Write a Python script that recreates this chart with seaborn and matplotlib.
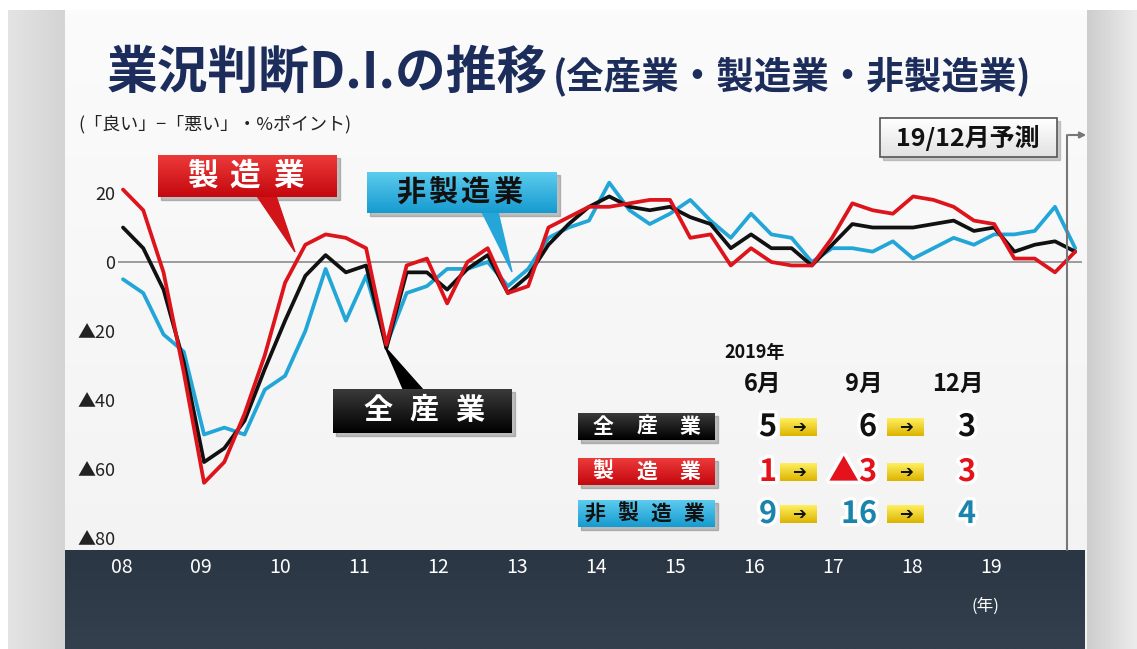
import numpy as np
import pandas as pd
import matplotlib
matplotlib.use("Agg")
import matplotlib.pyplot as plt
import seaborn as sns
from matplotlib.patches import Rectangle, Polygon
from matplotlib.colors import LinearSegmentedColormap
import matplotlib.patheffects as pe

# ---------------- data (quarterly, Mar 2008 .. Dec 2019 forecast) ----------------
quarters = [f"{y}/{m}" for y in range(2008, 2020) for m in (3, 6, 9, 12)]
all_industries = [10, 4, -8, -29, -58, -54, -46, -31, -17, -4,
                  2, -3, -1, -25, -3, -3, -8, -2, 2, -9,
                  -4, 5, 11, 16, 19, 16, 15, 16, 13, 11,
                  4, 8, 4, 4, -1, 5, 11, 10, 10, 10,
                  11, 12, 9, 10, 3, 5, 6, 3]
manufacturing = [21, 15, -3, -32, -64, -58, -44, -27, -6, 5,
                 8, 7, 4, -24, -1, 1, -12, 0, 4, -9,
                 -7, 10, 13, 16, 16, 17, 18, 18, 7, 8,
                 -1, 4, 0, -1, -1, 7, 17, 15, 14, 19,
                 18, 16, 12, 11, 1, 1, -3, 3]
non_manufacturing = [-5, -9, -21, -26, -50, -48, -50, -37, -33, -20,
                     -2, -17, -4, -24, -9, -7, -2, -2, 0, -7,
                     -2, 7, 10, 12, 23, 15, 11, 14, 18, 12,
                     7, 14, 8, 7, 0, 4, 4, 3, 6, 1,
                     4, 7, 5, 8, 8, 9, 16, 4]
series_names = ["全産業", "製造業", "非製造業"]
year_labels = ["08", "09", "10", "11", "12", "13", "14", "15", "16", "17", "18", "19"]
ytick_values = [20, 0, -20, -40, -60, -80]
ytick_labels = ["20", "0", "▲20", "▲40", "▲60", "▲80"]
table_months = ["6月", "9月", "12月"]
table_all = ["5", "6", "3"]
table_mfg = ["1", "▲3", "3"]
table_nonmfg = ["9", "16", "4"]

# ---------------- style ----------------
sns.set_theme(style="white")
plt.rcParams["font.family"] = ["Noto Sans CJK JP", "DejaVu Sans"]
plt.rcParams["font.weight"] = "bold"

W, H = 1137, 649
fig = plt.figure(figsize=(W / 100, H / 100), dpi=100)

NAVY = "#1c2d5c"
RED = "#dd141b"
BLUE = "#22a6d8"
BLACK = "#111111"


def grad(ax, x0, y0, x1, y1, c0, c1, z, horizontal=False):
    cmap = LinearSegmentedColormap.from_list("g", [c0, c1])
    g = np.linspace(0, 1, 64)
    arr = g[None, :] if horizontal else g[:, None]
    ax.imshow(arr, cmap=cmap, extent=(x0, x1, y1, y0), origin="upper",
              aspect="auto", zorder=z, interpolation="bilinear")


# ---------------- background ----------------
bg = fig.add_axes([0, 0, 1, 1], zorder=0)
bg.axis("off")
bg.add_patch(Rectangle((0, 0), W, H, color="white", zorder=0))
grad(bg, 65, 10, 1087, 649, "#fbfbfb", "#f2f2f2", 1)
grad(bg, 8, 10, 65, 649, "#e4e4e4", "#d4d4d4", 1, horizontal=True)
grad(bg, 1087, 10, 1137, 649, "#cdcdcd", "#ececec", 1, horizontal=True)
grad(bg, 65, 550, 1085, 649, "#2a3643", "#34404e", 2)
bg.set_xlim(0, W)
bg.set_ylim(H, 0)

# ---------------- data axes ----------------
px0, step = 123.0, 20.26
zero_py, unit = 262.0, 3.45
ax_l, ax_r, ax_t, ax_b = 118, 1082, 170, 550
ax = fig.add_axes([ax_l / W, 1 - ax_b / H, (ax_r - ax_l) / W, (ax_b - ax_t) / H], zorder=1)
ax.patch.set_alpha(0)

idx = np.arange(len(quarters))
df = pd.DataFrame({
    "idx": np.tile(idx, 3),
    "value": all_industries + manufacturing + non_manufacturing,
    "series": np.repeat(series_names, len(quarters)),
})
ax.axhline(0, color="#8c8c8c", lw=1.2, zorder=1)
sns.lineplot(data=df, x="idx", y="value", hue="series",
             hue_order=["非製造業", "全産業", "製造業"],
             palette={"全産業": BLACK, "製造業": RED, "非製造業": BLUE},
             linewidth=2.7, legend=False, estimator=None, sort=False, ax=ax)
ax.set_xlim((ax_l - px0) / step, (ax_r - px0) / step)
ax.set_ylim((zero_py - ax_b) / unit, (zero_py - ax_t) / unit)
ax.set_xlabel("")
ax.set_ylabel("")
for s in ax.spines.values():
    s.set_visible(False)
ax.set_yticks(ytick_values)
ax.set_yticklabels(ytick_labels, fontsize=13, color="#222222", fontweight="normal")
ax.set_xticks(np.arange(len(year_labels)) * 3.9 - 0.05)
ax.set_xticklabels(year_labels, fontsize=14, color="white", fontweight="normal")
ax.tick_params(axis="both", length=0)
ax.tick_params(axis="y", pad=2)
ax.tick_params(axis="x", pad=5)
ax.grid(False)

# ---------------- overlay ----------------
ov = fig.add_axes([0, 0, 1, 1], zorder=3)
ov.axis("off")
ov.patch.set_alpha(0)

# title
ov.text(107, 73, "業況判断D.I.の推移", ha="left", va="center", fontsize=36.5,
        color=NAVY, fontweight="bold")
ov.text(553, 76, "(全産業・製造業・非製造業)", ha="left", va="center", fontsize=27,
        color=NAVY, fontweight="bold")
ov.text(78, 124, "(「良い」−「悪い」・%ポイント)", ha="left", va="center", fontsize=13,
        color="#222222", fontweight="normal")
ov.text(985, 606, "(年)", ha="center", va="center", fontsize=12, color="white",
        fontweight="normal")

# forecast box + bracket arrow
ov.add_patch(Rectangle((883, 121), 177, 39, color="#9a9a9a", alpha=0.5, zorder=4))
grad(ov, 880, 118, 1057, 157, "#ffffff", "#e2e2e2", 5)
ov.add_patch(Rectangle((880, 118), 177, 39, fill=False, ec="#555555", lw=1.2, zorder=6))
ov.text(968, 138, "19/12月予測", ha="center", va="center", fontsize=18,
        color=BLACK, fontweight="bold", zorder=7)
ov.plot([1067, 1067], [550, 135], color="#777777", lw=1.5, zorder=4)
ov.annotate("", xy=(1089, 135), xytext=(1066, 135),
            arrowprops=dict(arrowstyle="-|>", color="#777777", lw=1.5,
                            mutation_scale=9), zorder=4)


def label_box(x0, y0, x1, y1, c0, c1, chars, xs, yc, tcolor, size, pointer=None,
              pcolor=None):
    ov.add_patch(Rectangle((x0 + 3, y0 + 3), x1 - x0, y1 - y0, color="#777777",
                           alpha=0.45, zorder=4))
    if pointer is not None:
        ov.add_patch(Polygon(pointer, closed=True, color=pcolor, zorder=5))
    grad(ov, x0, y0, x1, y1, c0, c1, 6)
    for ch, xc in zip(chars, xs):
        ov.text(xc, yc, ch, ha="center", va="center", fontsize=size, color=tcolor,
                fontweight="bold", zorder=7)


# callouts
label_box(158, 155, 337, 197, "#ec3a3a", "#c4080e", "製造業", [202, 245, 288], 176,
          "white", 22, pointer=[(257, 196), (276, 196), (295, 252)], pcolor="#d0141a")
label_box(367, 172, 557, 213, "#5ccbee", "#169bd0", "非製造業", [411, 443, 475, 508], 192,
          BLACK, 21, pointer=[(482, 212), (498, 212), (512, 272)], pcolor="#25a5d8")
label_box(333, 389, 512, 433, "#3a3a3a", "#000000", "全産業", [378, 424, 470], 410,
          "white", 21, pointer=[(385, 347), (404, 391), (424, 391)], pcolor="#000000")

# table
ov.text(755, 352, "2019年", ha="center", va="center", fontsize=13, color=BLACK,
        fontweight="bold")
for m, xc in zip(table_months, [763, 864, 958]):
    ov.text(xc, 384, m, ha="center", va="center", fontsize=17, color=BLACK,
            fontweight="bold")

rows = [
    ("全産業", [603, 647, 690], "#3a3a3a", "#000000", "white", table_all, BLACK, 427, 413),
    ("製造業", [603, 647, 690], "#ec3a3a", "#c4080e", "white", table_mfg, "#e3121b", 472, 458),
    ("非製造業", [595, 628, 661, 694], "#5ccbee", "#169bd0", BLACK, table_nonmfg, "#1b84ad", 514, 500),
]
stroke = [pe.withStroke(linewidth=5, foreground="white")]
for name, xs, c0, c1, tc, vals, vc, yc, ytop in rows:
    label_box(578, ytop, 715, ytop + 27, c0, c1, name, xs, ytop + 13.5, tc, 15)
    ov.text(777, yc, vals[0], ha="right", va="center", fontsize=22, color=vc,
            fontweight="bold", path_effects=stroke, zorder=7)
    ov.text(877, yc, vals[1], ha="right", va="center", fontsize=22, color=vc,
            fontweight="bold", path_effects=stroke, zorder=7)
    ov.text(967, yc, vals[2], ha="center", va="center", fontsize=22, color=vc,
            fontweight="bold", path_effects=stroke, zorder=7)
    for ax0 in (780, 887):
        grad(ov, ax0, yc - 9, ax0 + 37, yc + 9, "#fff060", "#dcb400", 6)
        ov.text(ax0 + 18.5, yc, "➔", ha="center", va="center", fontsize=12,
                color=BLACK, family=["DejaVu Sans"], zorder=7)

ov.set_xlim(0, W)
ov.set_ylim(H, 0)

fig.savefig("out.png", dpi=100)
